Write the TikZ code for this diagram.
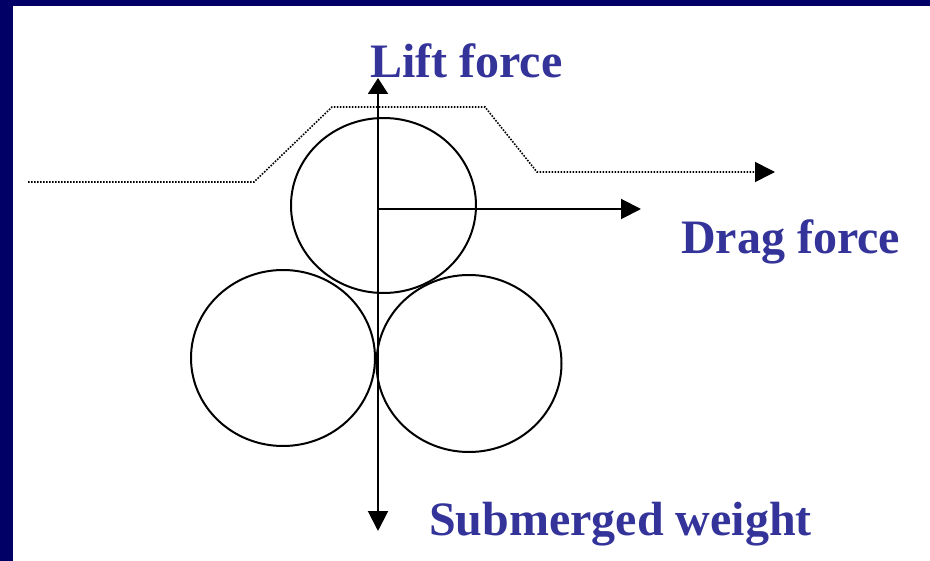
\documentclass[tikz,border=0pt]{standalone}
\usepackage{fontspec}
\setmainfont{Liberation Serif}
\usetikzlibrary{shapes.geometric,arrows.meta}
\definecolor{navy}{HTML}{000066}
\definecolor{labelblue}{HTML}{333399}
\tikzset{
  grain/.style={draw=black, line width=2pt, ellipse, inner sep=0pt},
  force/.style={draw=black, line width=2pt, -{Triangle[length=20pt,width=20pt]}},
  flow/.style={draw=black, line width=1.6pt, dash pattern=on 1.6pt off 1.4pt, -{Triangle[length=20pt,width=20pt]}},
  lbl/.style={text=labelblue, font=\fontsize{48}{48}\selectfont\bfseries, inner sep=0pt, anchor=base west}
}
\begin{document}
\begin{tikzpicture}[x=1pt,y=-1pt]
\useasboundingbox (0,0) rectangle (930,561);
\fill[white] (0,0) rectangle (930,561);
\fill[navy] (0,0) rectangle (930,6);
\fill[navy] (0,0) rectangle (13,561);
% grains
\node[grain, minimum width=185pt, minimum height=175pt] (topg) at (383.5,205.5) {};
\node[grain, minimum width=184pt, minimum height=176pt] (leftg) at (283,358) {};
\node[grain, minimum width=185pt, minimum height=177pt] (rightg) at (469,363.5) {};
% flow line
\coordinate (f0) at (28,182);
\coordinate (f1) at (254,182);
\coordinate (f2) at (332,107);
\coordinate (f3) at (485,107);
\coordinate (f4) at (537,172);
\coordinate (f5) at (775,172);
\draw[flow] (f0) -- (f1) -- (f2) -- (f3) -- (f4) -- (f5);
% forces
\coordinate (vtop) at (378,78);
\coordinate (vbot) at (378,531);
\coordinate (dstart) at (378,209);
\coordinate (dend) at (641,209);
\draw[force, {Triangle[length=16pt,width=20pt]}-{Triangle[length=20pt,width=20pt]}] (vtop) -- (vbot);
\draw[force] (dstart) -- (dend);
% labels
\node[lbl] (lift) at (370,78) {Lift force};
\node[lbl] (drag) at (681,254) {Drag force};
\node[lbl] (sub) at (429,536) {Submerged weight};
\end{tikzpicture}
\end{document}
